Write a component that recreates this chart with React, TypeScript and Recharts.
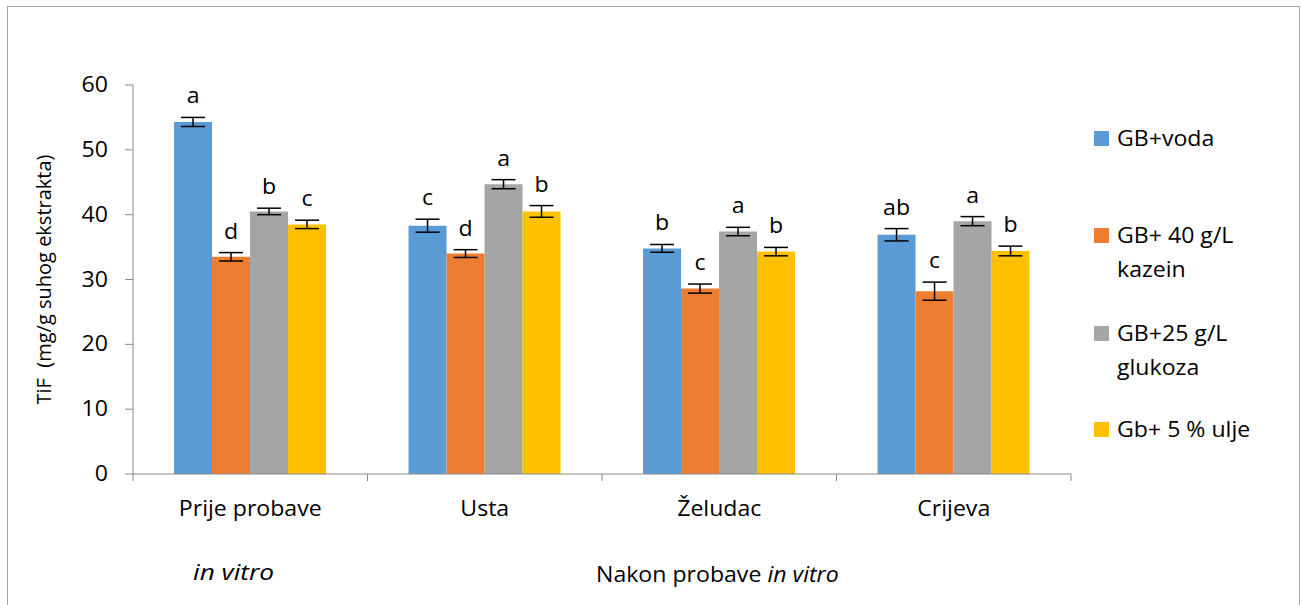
import React from 'react'
import { BarChart, Bar, XAxis, YAxis, ErrorBar, LabelList } from 'recharts'

const categories = ['Prije probave', 'Usta', 'Želudac', 'Crijeva']

const vodaValues = [54.3, 38.3, 34.8, 36.9]
const vodaErrors = [0.7, 1.0, 0.6, 0.95]
const vodaLetters = ['a', 'c', 'b', 'ab']

const kazeinValues = [33.5, 34.0, 28.6, 28.2]
const kazeinErrors = [0.65, 0.6, 0.7, 1.4]
const kazeinLetters = ['d', 'd', 'c', 'c']

const glukozaValues = [40.5, 44.7, 37.4, 39.0]
const glukozaErrors = [0.5, 0.7, 0.65, 0.7]
const glukozaLetters = ['b', 'a', 'a', 'a']

const uljeValues = [38.5, 40.5, 34.3, 34.4]
const uljeErrors = [0.65, 0.9, 0.65, 0.75]
const uljeLetters = ['c', 'b', 'b', 'b']

const yTicks = [0, 10, 20, 30, 40, 50, 60]

const series = [
  { key: 'voda', name: ['GB+voda'], color: '#5B9BD5', values: vodaValues, errors: vodaErrors, letters: vodaLetters },
  { key: 'kazein', name: ['GB+ 40 g/L', 'kazein'], color: '#ED7D31', values: kazeinValues, errors: kazeinErrors, letters: kazeinLetters },
  { key: 'glukoza', name: ['GB+25 g/L', 'glukoza'], color: '#A5A5A5', values: glukozaValues, errors: glukozaErrors, letters: glukozaLetters },
  { key: 'ulje', name: ['Gb+ 5 % ulje'], color: '#FFC000', values: uljeValues, errors: uljeErrors, letters: uljeLetters },
]

const data = categories.map((cat, i) => {
  const row: any = { name: cat }
  series.forEach(s => {
    row[s.key] = s.values[i]
    row[s.key + 'Err'] = s.errors[i]
  })
  return row
})

const FONT = '"Open Sans", "Liberation Sans", sans-serif'
const AXIS = '#898989'
const STRETCH = 1.1

// the reference text is a bit wider than Open Sans, so stretch it a little
const WideText = ({ x, y, anchor = 'middle', size = 21, children }: any) => (
  <text
    transform={`translate(${x}, ${y}) scale(${STRETCH}, 1)`}
    textAnchor={anchor}
    fontSize={size}
    fontFamily={FONT}
    fill="#000"
  >
    {children}
  </text>
)

const CategoryTick = (props: any) => {
  const { x, y, payload, index, visibleTicksCount } = props
  const half = payload && payload.offset ? payload.offset : 0
  const last = index === (visibleTicksCount ?? categories.length) - 1
  return (
    <g>
      <line x1={x - half} x2={x - half} y1={y} y2={y + 7} stroke={AXIS} />
      {last && <line x1={x + half} x2={x + half} y1={y} y2={y + 7} stroke={AXIS} />}
      <WideText x={x} y={y + 42}>{payload.value}</WideText>
    </g>
  )
}

const ValueTick = (props: any) => {
  const { x, y, payload } = props
  return <WideText x={x} y={y + 7} anchor="end">{payload.value}</WideText>
}

const makeLetterLabel = (errors: number[], letters: string[]) => (props: any) => {
  const { x, y, width, height, value, index } = props
  if (!value) return null
  const perUnit = height / value
  const top = y - errors[index] * perUnit
  return <WideText x={x + width / 2} y={top - 14}>{letters[index]}</WideText>
}

const stretchStyle: React.CSSProperties = { transform: `scaleX(${STRETCH})`, transformOrigin: 'left center' }

export default function App() {
  return (
    <div style={{ position: 'absolute', left: 0, top: 0, width: 1301, height: 605, background: '#fff', overflow: 'hidden', fontFamily: FONT }}>
      <div style={{ position: 'absolute', left: 7, top: 6, width: 1291, height: 640, border: '1px solid #a6a6a6' }} />
      <BarChart
        width={1301}
        height={605}
        data={data}
        margin={{ top: 85, right: 230, bottom: 91, left: 73 }}
        barCategoryGap="17.5%"
        barGap={0}
      >
        <XAxis
          dataKey="name"
          height={40}
          axisLine={{ stroke: AXIS }}
          tickLine={false}
          tickSize={0}
          tickMargin={0}
          tick={<CategoryTick />}
          interval={0}
        />
        <YAxis
          width={60}
          domain={[0, 60]}
          ticks={yTicks}
          axisLine={{ stroke: AXIS }}
          tickLine={{ stroke: AXIS }}
          tickSize={8}
          tickMargin={17}
          tick={<ValueTick />}
          label={({ viewBox }: any) => (
            <text
              x={46}
              y={viewBox.y + viewBox.height / 2}
              transform={`rotate(-90, 46, ${viewBox.y + viewBox.height / 2})`}
              textAnchor="middle"
              dominantBaseline="middle"
              fontSize={20}
              fontFamily={FONT}
              fill="#000"
              style={{ whiteSpace: 'pre' }}
            >
              {'TiF  (mg/g suhog ekstrakta)'}
            </text>
          )}
        />
        {series.map(s => (
          <Bar key={s.key} dataKey={s.key} fill={s.color} isAnimationActive={false}>
            <ErrorBar dataKey={s.key + 'Err'} width={12} stroke="#000" strokeWidth={1.5} />
            <LabelList dataKey={s.key} content={makeLetterLabel(s.errors, s.letters)} />
          </Bar>
        ))}
      </BarChart>

      <div style={{ position: 'absolute', left: 1094, top: 0 }}>
        {series.map((s, i) => {
          const tops = [138, 235, 333, 429]
          return (
            <div key={s.key} style={{ position: 'absolute', top: tops[i] - 17, left: 0, width: 200 }}>
              <div style={{ position: 'absolute', left: 0, top: 10, width: 15, height: 15, background: s.color }} />
              {s.name.map((line, j) => (
                <div key={j} style={{ position: 'absolute', left: 23, top: j * 34, fontSize: 21, lineHeight: '34px', whiteSpace: 'nowrap', color: '#000', ...stretchStyle }}>
                  {line}
                </div>
              ))}
            </div>
          )
        })}
      </div>

      <div style={{ position: 'absolute', left: 193, top: 556, fontSize: 21, lineHeight: '32px', fontStyle: 'italic', whiteSpace: 'nowrap', transform: 'scaleX(1.25)', transformOrigin: 'left center' }}>
        in vitro
      </div>
      <div style={{ position: 'absolute', left: 596, top: 558, fontSize: 21, lineHeight: '32px', whiteSpace: 'nowrap', ...stretchStyle }}>
        Nakon probave <i>in vitro</i>
      </div>
    </div>
  )
}
